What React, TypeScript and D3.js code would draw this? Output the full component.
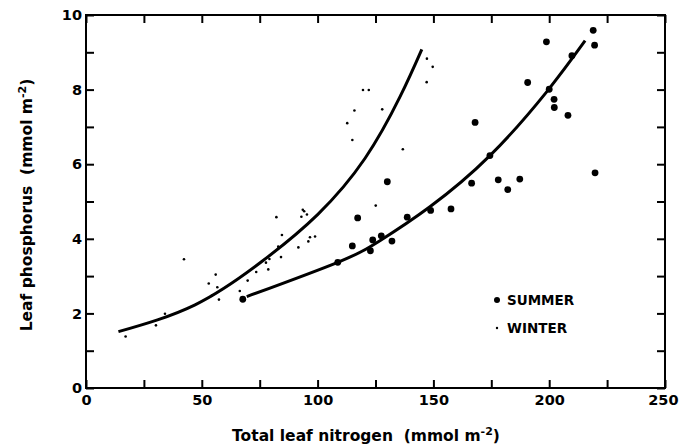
import * as d3 from "d3";
import { useRef, useEffect } from "react";

// nitrogen (x) and phosphorus (y), mmol m-2
const summerN = [67.7, 108.7, 115.0, 117.3, 122.8, 123.8, 127.5, 130.1, 132.1, 138.7, 148.8, 157.6, 166.5, 168.0, 174.4, 178.0, 182.1, 187.3, 190.7, 198.8, 200.0, 202.1, 202.2, 208.1, 209.8, 219.0, 219.6, 219.8];
const summerP = [2.38, 3.37, 3.81, 4.56, 3.68, 3.97, 4.08, 5.53, 3.94, 4.58, 4.76, 4.80, 5.49, 7.12, 6.23, 5.58, 5.32, 5.60, 8.19, 9.28, 8.01, 7.74, 7.52, 7.31, 8.91, 9.59, 9.19, 5.77];

const winterN = [17.1, 30.2, 34.1, 42.3, 53.0, 54.3, 56.0, 56.7, 57.4, 66.4, 69.8, 73.5, 77.7, 78.7, 79.2, 82.2, 83.0, 84.2, 84.6, 91.7, 93.0, 93.6, 94.2, 95.4, 96.0, 96.7, 98.9, 112.8, 115.0, 115.9, 119.6, 122.1, 125.1, 127.9, 136.8, 147.1, 147.2, 149.7];
const winterP = [1.38, 1.68, 1.99, 3.45, 2.80, 2.47, 3.04, 2.70, 2.37, 2.60, 2.88, 3.11, 3.36, 3.18, 3.46, 4.58, 3.79, 3.51, 4.10, 3.77, 4.59, 4.78, 4.74, 4.65, 3.93, 4.04, 4.06, 7.10, 6.65, 7.44, 7.99, 7.99, 4.89, 7.47, 6.40, 8.20, 8.83, 8.61];

// fitted curves
const winterFitN = [14, 47.1, 75.9, 100, 120.5, 135.6, 145];
const winterFitP = [1.51, 2.23, 3.39, 4.65, 6.16, 7.81, 9.08];
const summerFitN = [69.4, 108.7, 126.9, 148.5, 174.4, 198.9, 215.5];
const summerFitP = [2.45, 3.37, 3.95, 4.86, 6.23, 7.94, 9.31];

const xTicks = [0, 25, 50, 75, 100, 125, 150, 175, 200, 225, 250];
const xLabels = ["0", "", "50", "", "100", "", "150", "", "200", "", "250"];
const yTicks = [0, 1, 2, 3, 4, 5, 6, 7, 8, 9, 10];
const yLabels = ["0", "", "2", "", "4", "", "6", "", "8", "", "10"];

const legendItems = ["SUMMER", "WINTER"];

export default function App() {
  const ref = useRef<SVGSVGElement | null>(null);
  const width = 679, height = 444;
  const font = "'DejaVu Sans', sans-serif";

  useEffect(() => {
    const svg = d3.select(ref.current);
    svg.selectAll("*").remove();

    const x = d3.scaleLinear().domain([0, 250]).range([86, 665]);
    const y = d3.scaleLinear().domain([0, 10]).range([388, 15]);

    const g = svg.append("g");

    // frame
    g.append("rect")
      .attr("x", 86).attr("y", 15)
      .attr("width", 665 - 86).attr("height", 388 - 15)
      .attr("fill", "none").attr("stroke", "#000").attr("stroke-width", 2);

    const styleAxis = (sel: any) => {
      sel.select(".domain").remove();
      sel.selectAll("line").attr("stroke", "#000").attr("stroke-width", 2);
      sel.selectAll("text")
        .attr("fill", "#000")
        .style("font-family", font)
        .style("font-weight", "bold")
        .style("font-size", "14.5px");
    };

    // bottom axis with labels
    const bottom = g.append("g")
      .attr("transform", "translate(0,388)")
      .call(d3.axisBottom(x).tickValues(xTicks).tickSize(-8).tickPadding(7)
        .tickFormat((d, i) => xLabels[i]))
      .call(styleAxis);
    // last label sits against the page edge
    bottom.selectAll("text")
      .filter((d: any) => d === 250)
      .attr("text-anchor", "end")
      .attr("x", 13);
    // top
    g.append("g")
      .attr("transform", "translate(0,15)")
      .call(d3.axisTop(x).tickValues(xTicks).tickSize(-8).tickFormat(() => ""))
      .call(styleAxis);
    // left with labels
    g.append("g")
      .attr("transform", "translate(86,0)")
      .call(d3.axisLeft(y).tickValues(yTicks).tickSize(-8).tickPadding(4)
        .tickFormat((d, i) => yLabels[i]))
      .call(styleAxis);
    // right
    g.append("g")
      .attr("transform", "translate(665,0)")
      .call(d3.axisRight(y).tickValues(yTicks).tickSize(-8).tickFormat(() => ""))
      .call(styleAxis);

    // curves
    const line = d3.line<[number, number]>()
      .x(d => x(d[0])).y(d => y(d[1]))
      .curve(d3.curveNatural);
    const wFit: [number, number][] = winterFitN.map((n, i) => [n, winterFitP[i]]);
    const sFit: [number, number][] = summerFitN.map((n, i) => [n, summerFitP[i]]);
    [wFit, sFit].forEach(pts => {
      g.append("path")
        .attr("d", line(pts))
        .attr("fill", "none")
        .attr("stroke", "#000")
        .attr("stroke-width", 3);
    });

    // points
    g.selectAll(".winter")
      .data(winterN.map((n, i) => [n, winterP[i]]))
      .join("circle")
      .attr("cx", d => x(d[0])).attr("cy", d => y(d[1]))
      .attr("r", 1.3).attr("fill", "#000");
    g.selectAll(".summer")
      .data(summerN.map((n, i) => [n, summerP[i]]))
      .join("circle")
      .attr("cx", d => x(d[0])).attr("cy", d => y(d[1]))
      .attr("r", 3.4).attr("fill", "#000");

    // legend
    const lg = g.append("g");
    legendItems.forEach((name, i) => {
      const ly = 300 + i * 28;
      lg.append("circle")
        .attr("cx", 497).attr("cy", ly)
        .attr("r", i === 0 ? 3 : 1.2).attr("fill", "#000");
      lg.append("text")
        .attr("x", 507).attr("y", ly + 5.3)
        .style("font-family", font).style("font-weight", "bold")
        .style("font-size", "13.5px")
        .text(name);
    });

    // axis titles
    const xt = g.append("text")
      .attr("x", 366).attr("y", 441)
      .attr("text-anchor", "middle")
      .style("font-family", font).style("font-weight", "bold")
      .style("font-size", "15.5px")
      .style("white-space", "pre");
    xt.append("tspan").text("Total leaf nitrogen  (mmol m");
    xt.append("tspan").attr("dy", -6).style("font-size", "11px").text("-2");
    xt.append("tspan").attr("dy", 6).text(")");

    const yt = g.append("text")
      .attr("transform", "translate(32,205) rotate(-90)")
      .attr("text-anchor", "middle")
      .style("font-family", font).style("font-weight", "bold")
      .style("font-size", "15.5px")
      .style("white-space", "pre");
    yt.append("tspan").text("Leaf phosphorus  (mmol m");
    yt.append("tspan").attr("dy", -6).style("font-size", "11px").text("-2");
    yt.append("tspan").attr("dy", 6).text(")");
  });

  return (
    <svg
      ref={ref}
      width={width}
      height={height}
      style={{ position: "absolute", left: 0, top: 0, background: "#fff" }}
    />
  );
}
